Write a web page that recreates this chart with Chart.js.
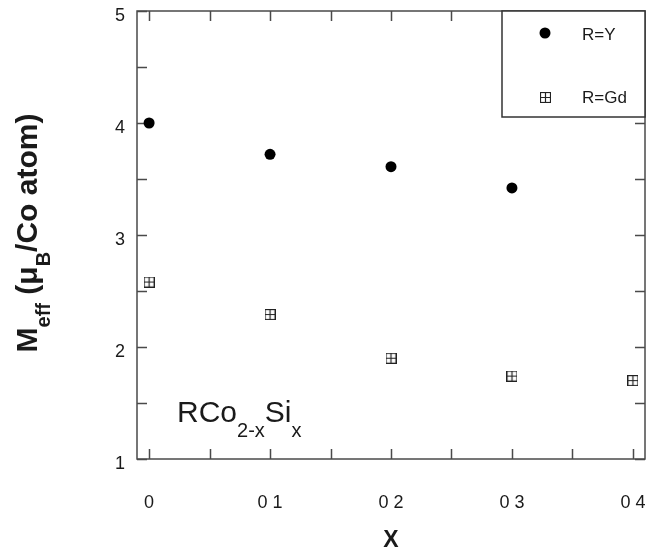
<!DOCTYPE html>
<html>
<head>
<meta charset="utf-8">
<script src="https://cdn.jsdelivr.net/npm/chart.js@4.4.0/dist/chart.umd.min.js"></script>
<style>
  html, body { margin: 0; padding: 0; background: #fff; }
  #wrap { width: 658px; height: 550px; }
</style>
</head>
<body>
<div id="wrap"><canvas id="my-chart" width="658" height="550"></canvas></div>
<script>
// values
const xY = [0, 0.1, 0.2, 0.3];
const valuesY = [4.0, 3.72, 3.61, 3.42];
const xGd = [0, 0.1, 0.2, 0.3, 0.4];
const valuesGd = [2.58, 2.29, 1.90, 1.74, 1.70];
const seriesLabels = ['R=Y', 'R=Gd'];

const xTicks = [0, 0.1, 0.2, 0.3, 0.4];
const xTickLabels = ['0', '0 1', '0 2', '0 3', '0 4'];
const xMinorTicks = [0.05, 0.15, 0.25, 0.35];
const yTicks = [1, 2, 3, 4, 5];
const yMinorTicks = [1.5, 2.5, 3.5, 4.5];

const FONT = '"Liberation Sans", Arial, sans-serif';
const INK = '#1a1a1a';
const AXIS = '#4a4a4a';

// square with a cross inside, used for R=Gd
function boxCross() {
  const c = document.createElement('canvas');
  c.width = 11;
  c.height = 11;
  const g = c.getContext('2d');
  g.strokeStyle = '#222';
  g.lineWidth = 1.2;
  g.strokeRect(0.5, 0.5, 10, 10);
  g.beginPath();
  g.moveTo(5.5, 0.5); g.lineTo(5.5, 10.5);
  g.moveTo(0.5, 5.5); g.lineTo(10.5, 5.5);
  g.stroke();
  return c;
}
const gdMarker = boxCross();

// frame + inward ticks on all four sides
const framePlugin = {
  id: 'frame',
  beforeDatasetsDraw(chart) {
    const { ctx, chartArea: a, scales } = chart;
    const len = 10;
    ctx.save();
    ctx.strokeStyle = AXIS;
    ctx.lineWidth = 1.5;
    ctx.strokeRect(a.left, a.top, a.right - a.left, a.bottom - a.top);
    ctx.beginPath();
    xTicks.concat(xMinorTicks).forEach((v) => {
      const px = Math.round(scales.x.getPixelForValue(v)) + 0.5;
      ctx.moveTo(px, a.bottom); ctx.lineTo(px, a.bottom - len);
      ctx.moveTo(px, a.top); ctx.lineTo(px, a.top + len);
    });
    yTicks.concat(yMinorTicks).forEach((v) => {
      const py = Math.round(scales.y.getPixelForValue(v)) + 0.5;
      ctx.moveTo(a.left, py); ctx.lineTo(a.left + len, py);
      ctx.moveTo(a.right, py); ctx.lineTo(a.right - len, py);
    });
    ctx.stroke();
    ctx.restore();
  },
};

// texts with subscripts and the boxed legend
function drawRich(ctx, parts, x, y) {
  let cx = x;
  parts.forEach((p) => {
    ctx.font = p.font;
    ctx.fillText(p.t, cx, y + (p.dy || 0));
    cx += ctx.measureText(p.t).width;
  });
}
function richWidth(ctx, parts) {
  let w = 0;
  parts.forEach((p) => { ctx.font = p.font; w += ctx.measureText(p.t).width; });
  return w;
}

const textPlugin = {
  id: 'texts',
  afterDraw(chart) {
    const { ctx, chartArea: a } = chart;
    ctx.save();
    ctx.fillStyle = INK;
    ctx.textBaseline = 'alphabetic';

    // y title
    const big = 'bold 30px ' + FONT;
    const sub = 'bold 20px ' + FONT;
    const yTitle = [
      { t: 'M', font: big },
      { t: 'eff', font: sub, dy: 13 },
      { t: ' (\u03bc', font: big },
      { t: 'B', font: sub, dy: 13 },
      { t: '/Co atom)', font: big },
    ];
    const w = richWidth(ctx, yTitle);
    ctx.save();
    ctx.translate(37, 233 + w / 2);
    ctx.rotate(-Math.PI / 2);
    drawRich(ctx, yTitle, 0, 0);
    ctx.restore();

    // x title
    ctx.font = 'bold 23px ' + FONT;
    ctx.textAlign = 'center';
    ctx.fillText('X', (a.left + a.right) / 2, 547);
    ctx.textAlign = 'left';

    // compound label
    const n = '30px ' + FONT;
    const s = '20px ' + FONT;
    drawRich(ctx, [
      { t: 'RCo', font: n },
      { t: '2-x', font: s, dy: 15 },
      { t: 'Si', font: n },
      { t: 'x', font: s, dy: 15 },
    ], 177, 422);

    // legend box
    const lx = 502, ly = a.top, lw = a.right - 502, lh = 106;
    ctx.fillStyle = '#fff';
    ctx.fillRect(lx, ly, lw, lh);
    ctx.strokeStyle = '#333';
    ctx.lineWidth = 1.5;
    ctx.strokeRect(lx, ly, lw, lh);
    ctx.fillStyle = '#000';
    ctx.beginPath();
    ctx.arc(545, 33, 5.5, 0, Math.PI * 2);
    ctx.fill();
    ctx.drawImage(gdMarker, 540, 92);
    ctx.fillStyle = INK;
    ctx.font = '17px ' + FONT;
    ctx.fillText(chart.data.datasets[0].label, 582, 40);
    ctx.fillText(chart.data.datasets[1].label, 582, 103);
    ctx.restore();
  },
};

const ctx = document.getElementById('my-chart').getContext('2d');
const myChart = new Chart(ctx, {
  type: 'scatter',
  data: {
    datasets: [
      {
        label: seriesLabels[0],
        data: xY.map((x, i) => ({ x, y: valuesY[i] })),
        pointStyle: 'circle',
        pointRadius: 5.5,
        backgroundColor: '#000',
        borderColor: '#000',
        borderWidth: 0,
      },
      {
        label: seriesLabels[1],
        data: xGd.map((x, i) => ({ x, y: valuesGd[i] })),
        pointStyle: gdMarker,
        pointRadius: 6,
      },
    ],
  },
  options: {
    responsive: false,
    animation: false,
    events: [],
    layout: { padding: { top: 11, right: 13, left: 0, bottom: 0 } },
    plugins: { legend: { display: false }, tooltip: { enabled: false } },
    scales: {
      x: {
        type: 'linear',
        min: -0.01,
        max: 0.41,
        afterBuildTicks: (s) => { s.ticks = xTicks.map((v) => ({ value: v })); },
        afterFit: (s) => {
          s.height = 91;
          s.paddingLeft = 0;
          s.paddingRight = 0;
        },
        ticks: {
          callback: (v) => xTickLabels[xTicks.indexOf(v)],
          font: { family: FONT, size: 18 },
          color: INK,
          padding: 33,
          maxRotation: 0,
          autoSkip: false,
        },
        grid: { display: false, drawTicks: false },
        border: { display: false },
      },
      y: {
        type: 'linear',
        min: 1,
        max: 5,
        afterBuildTicks: (s) => { s.ticks = yTicks.map((v) => ({ value: v })); },
        afterFit: (s) => {
          s.width = 137;
          s.paddingTop = 0;
          s.paddingBottom = 0;
        },
        ticks: {
          font: { family: FONT, size: 18 },
          color: INK,
          padding: 12,
          labelOffset: 5,
        },
        grid: { display: false, drawTicks: false },
        border: { display: false },
      },
    },
  },
  plugins: [framePlugin, textPlugin],
});
</script>
</body>
</html>
